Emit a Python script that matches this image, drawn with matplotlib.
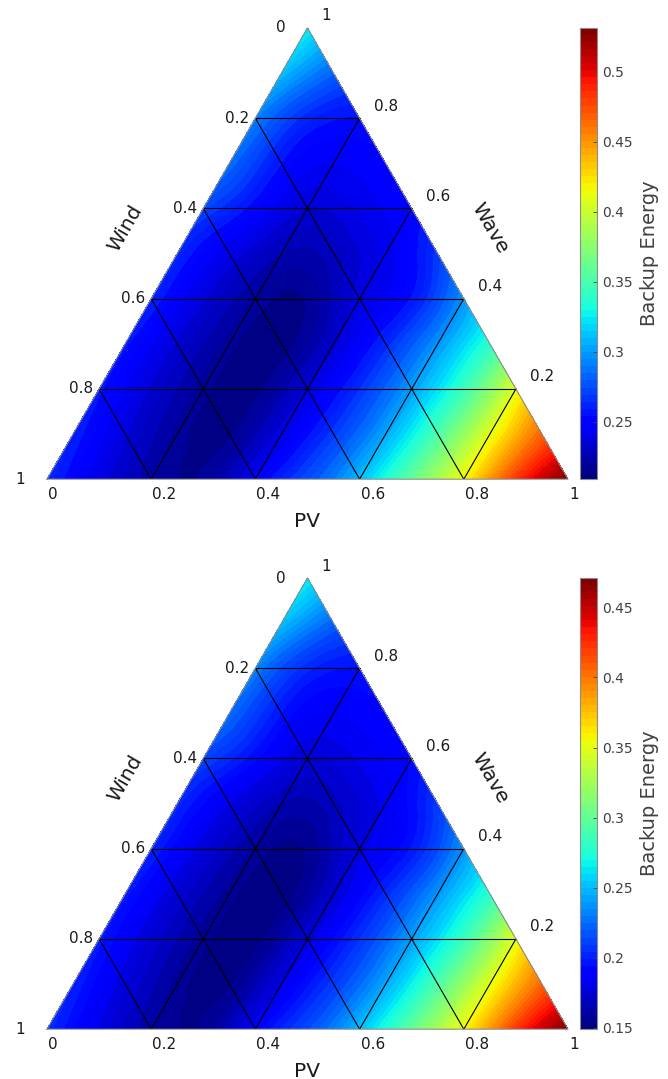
import numpy as np
import matplotlib
matplotlib.use('Agg')
import matplotlib.pyplot as plt
import matplotlib.tri as mtri
from matplotlib import cm, colors

# backup energy read on a 0.1 lattice: one row per Wave share (0 .. 1),
# values inside a row for PV share 0, 0.1, ... up to 1 - Wave
backup_top = [
    [0.262, 0.238, 0.220, 0.215, 0.245, 0.273, 0.309, 0.360, 0.415, 0.483, 0.531],
    [0.259, 0.235, 0.217, 0.213, 0.238, 0.267, 0.302, 0.351, 0.409, 0.467],
    [0.256, 0.233, 0.216, 0.212, 0.235, 0.264, 0.299, 0.344, 0.409],
    [0.256, 0.233, 0.216, 0.211, 0.232, 0.261, 0.296, 0.338],
    [0.260, 0.235, 0.218, 0.215, 0.237, 0.255, 0.296],
    [0.261, 0.239, 0.224, 0.227, 0.241, 0.267],
    [0.270, 0.250, 0.234, 0.240, 0.250],
    [0.283, 0.254, 0.244, 0.248],
    [0.290, 0.261, 0.254],
    [0.309, 0.280],
    [0.325],
]
backup_bottom = [
    [0.202, 0.178, 0.160, 0.155, 0.185, 0.213, 0.249, 0.300, 0.355, 0.423, 0.471],
    [0.199, 0.175, 0.157, 0.153, 0.178, 0.207, 0.242, 0.291, 0.349, 0.407],
    [0.196, 0.173, 0.156, 0.152, 0.175, 0.204, 0.239, 0.284, 0.349],
    [0.196, 0.173, 0.156, 0.151, 0.172, 0.201, 0.236, 0.278],
    [0.200, 0.175, 0.158, 0.155, 0.177, 0.195, 0.236],
    [0.201, 0.179, 0.164, 0.167, 0.181, 0.207],
    [0.210, 0.190, 0.174, 0.180, 0.190],
    [0.223, 0.194, 0.184, 0.188],
    [0.230, 0.201, 0.194],
    [0.249, 0.220],
    [0.265],
]
cbar_range_top = (0.209, 0.531)
cbar_range_bottom = (0.149, 0.471)
cbar_ticks_top = [0.25, 0.3, 0.35, 0.4, 0.45, 0.5]
cbar_ticks_bottom = [0.15, 0.2, 0.25, 0.3, 0.35, 0.4, 0.45]
axis_ticks = [0, 0.2, 0.4, 0.6, 0.8, 1]
tick_labels = ['0', '0.2', '0.4', '0.6', '0.8', '1']

S3 = np.sqrt(3) / 2
W, H = 668, 1079

fig = plt.figure(figsize=(W / 100, H / 100), dpi=100)


def px_axes(left, top, width, height):
    return fig.add_axes([left / W, 1 - (top + height) / H, width / W, height / H])


def triangulate(rows):
    x, y, z, idx = [], [], [], {}
    for i, row in enumerate(rows):
        for j, val in enumerate(row):
            idx[(i, j)] = len(x)
            p, h = j * 0.1, i * 0.1
            x.append(p + h / 2)
            y.append(h * S3)
            z.append(val)
    n = len(rows) - 1
    tris = []
    for i in range(n):
        for j in range(n - i):
            tris.append([idx[(i, j)], idx[(i, j + 1)], idx[(i + 1, j)]])
            if j + 1 <= n - i - 1:
                tris.append([idx[(i, j + 1)], idx[(i + 1, j + 1)], idx[(i + 1, j)]])
    return mtri.Triangulation(x, y, tris), np.array(z)


def ternary(top, rows, vrange, cticks):
    ax = px_axes(47, top, 521, 521 * S3)
    ax.set_xlim(0, 1)
    ax.set_ylim(0, S3)
    ax.axis('off')

    tri, z = triangulate(rows)
    interp = mtri.CubicTriInterpolator(tri, z, kind='min_E')
    tri_f, z_f = mtri.UniformTriRefiner(tri).refine_field(z, triinterpolator=interp, subdiv=4)
    levels = np.linspace(vrange[0], vrange[1], 65)
    ax.tricontourf(tri_f, z_f, levels=levels, cmap='jet', extend='both')

    # grid of the three shares
    for g in [0.2, 0.4, 0.6, 0.8]:
        ax.plot([g / 2, 1 - g / 2], [g * S3, g * S3], color='black', lw=0.8)
        ax.plot([g, g + (1 - g) / 2], [0, (1 - g) * S3], color='black', lw=0.8)
        ax.plot([g, g / 2], [0, g * S3], color='black', lw=0.8)
    ax.plot([0, 1, 0.5, 0], [0, 0, S3, 0], color='#8c8c8c', lw=0.8, clip_on=False)

    txt = dict(fontsize=11, color='#1a1a1a', textcoords='offset pixels', annotation_clip=False)
    for t, lab in zip(axis_ticks, tick_labels):
        ax.annotate(lab, (t, 0), xytext=(1, -15), ha='left', va='center', **txt)
        h = 1 - t
        dx = -22 if t in (0, 1) else -6
        ax.annotate(lab, (h / 2, h * S3), xytext=(dx, 0), ha='right', va='center', **txt)
        if t > 0:
            ax.annotate(lab, (1 - t / 2, t * S3), xytext=(14, 12), ha='left', va='center', **txt)

    ttl = dict(fontsize=14.5, color='#1a1a1a', textcoords='offset pixels', annotation_clip=False,
               ha='center', va='center')
    ax.annotate('Wind', (0.25, S3 / 2), xytext=(-52, 25), rotation=60, **ttl)
    ax.annotate('Wave', (0.75, S3 / 2), xytext=(52, 25), rotation=-60, **ttl)
    ax.annotate('PV', (0.5, 0), xytext=(0, -42), **ttl)

    cax = px_axes(580, top, 17, 521 * S3)
    sm = cm.ScalarMappable(norm=colors.Normalize(*vrange), cmap=plt.get_cmap('jet', 64))
    cb = fig.colorbar(sm, cax=cax)
    cb.set_ticks(cticks)
    cb.set_ticklabels(['%g' % c for c in cticks])
    cb.outline.set_edgecolor('#8c8c8c')
    cb.outline.set_linewidth(0.8)
    cax.tick_params(direction='in', length=3, width=0.6, colors='#404040', labelsize=10, pad=4)
    cax.text(4.1, 0.5, 'Backup Energy', transform=cax.transAxes, rotation=90,
             ha='center', va='center', fontsize=14, color='#404040')


ternary(28, backup_top, cbar_range_top, cbar_ticks_top)
ternary(578, backup_bottom, cbar_range_bottom, cbar_ticks_bottom)

fig.savefig('out.png', dpi=100)
